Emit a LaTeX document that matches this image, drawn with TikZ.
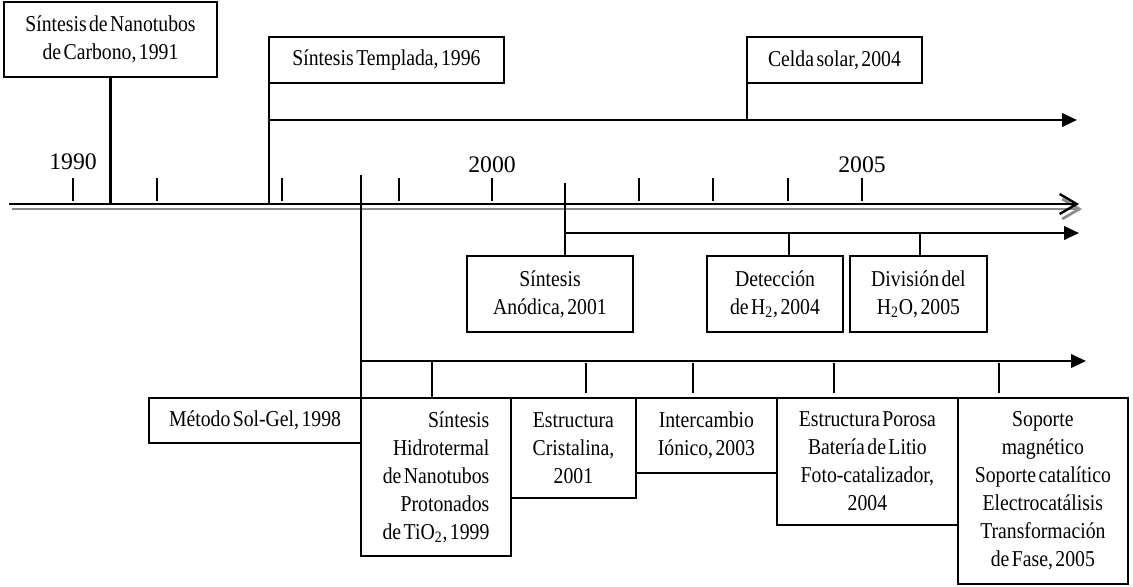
\documentclass[tikz,border=0pt]{standalone}
\usepackage{fontspec}
\setmainfont{Liberation Serif}
\newfontfamily\cajafont{Liberation Serif}[FakeStretch=0.87,WordSpace=0.5]
\usetikzlibrary{arrows.meta,positioning}

\begin{document}
\begin{tikzpicture}[x=0.02cm,y=-0.02cm]
  \tikzstyle{caja}=[rectangle,draw=black,line width=1pt,inner sep=2pt,outer sep=0pt,align=center,font=\cajafont\fontsize{12.9}{15.9}\selectfont]
  \tikzstyle{anio}=[font=\fontsize{13.5}{16}\selectfont]
  \tikzstyle{tallo}=[line width=1.35pt]
  \tikzstyle{rama}=[line width=1.35pt,-{Triangle[length=0.3cm,width=0.27cm]}]
  \tikzstyle{eje}=[line width=1.35pt,-{Straight Barb[length=0.34cm,width=0.4cm]}]

  \useasboundingbox (0,0) rectangle (1133,586);

  \coordinate (ejeA) at (9,204);
  \coordinate (ejeB) at (1079,204);
  \draw[eje,black!45,line width=1.6pt,transform canvas={xshift=0.06cm,yshift=-0.1cm}] (ejeA) -- (ejeB);
  \draw[eje] (ejeA) -- (ejeB);
  \foreach \x in {73,157,282,399,492,639,713,788,862}
    \draw[tallo] (\x,178) -- (\x,201);

  \node[anio] (a1990) at (73,162) {1990};
  \node[anio] (a2000) at (492,165) {2000};
  \node[anio] (a2005) at (862,165) {2005};

  \node[caja,anchor=north west,minimum width=4.26cm,minimum height=1.5cm] (carbono) at (4,2) {Síntesis de Nanotubos\\de Carbono, 1991};
  \node[caja,anchor=north west,minimum width=4.7cm,minimum height=0.92cm] (templada) at (269,37) {Síntesis Templada, 1996};
  \node[caja,anchor=north west,minimum width=3.5cm,minimum height=0.92cm] (celda) at (747,37) {Celda solar, 2004};

  \coordinate (r1) at (1077,120);
  \draw[tallo] (carbono.south) -- (carbono.south |- ejeA);
  \draw[tallo] (templada.south west) -- (templada.south west |- ejeA);
  \draw[rama] (templada.south west |- r1) -- (r1);
  \draw[tallo] (celda.south west) -- (celda.south west |- r1);

  \node[caja,anchor=north west,minimum width=3.32cm,minimum height=1.52cm] (anodica) at (467,256) {Síntesis\\Anódica, 2001};
  \node[caja,anchor=north west,minimum width=2.72cm,minimum height=1.52cm] (deteccion) at (707,256) {Detección\\de H\textsubscript{2}, 2004};
  \node[caja,right=0.14cm of deteccion,minimum width=2.74cm,minimum height=1.52cm] (division) {División del\\H\textsubscript{2}O, 2005};

  \coordinate (s2001) at (565,183);
  \coordinate (r2) at (1079,233);
  \coordinate (d2004) at (789,233);
  \coordinate (d2005) at (920,233);
  \draw[tallo] (s2001) -- (s2001 |- anodica.north);
  \draw[rama] (s2001 |- r2) -- (r2);
  \draw[tallo] (d2004) -- (d2004 |- deteccion.north);
  \draw[tallo] (d2005) -- (d2005 |- division.north);

  \node[caja,anchor=north west,minimum width=3cm,minimum height=3.16cm,align=right] (hidrotermal) at (361,398) {Síntesis\\Hidrotermal\\de Nanotubos\\Protonados\\de TiO\textsubscript{2}, 1999};
  \node[caja,anchor=north east,minimum width=4.24cm,minimum height=0.9cm] (solgel) at (hidrotermal.north west) {Método Sol-Gel, 1998};
  \node[caja,anchor=north west,minimum width=2.5cm,minimum height=2cm] (cristalina) at (hidrotermal.north east) {Estructura\\Cristalina,\\2001};
  \node[caja,anchor=north west,minimum width=2.82cm,minimum height=1.5cm] (intercambio) at (cristalina.north east) {Intercambio\\Iónico, 2003};
  \node[caja,anchor=north west,minimum width=3.62cm,minimum height=2.54cm] (porosa) at (intercambio.north east) {Estructura Porosa\\Batería de Litio\\Foto-catalizador,\\2004};
  \node[caja,anchor=north west,minimum width=3.4cm,minimum height=3.72cm] (soporte) at (porosa.north east) {Soporte\\magnético\\Soporte catalítico\\Electrocatálisis\\Transformación\\de Fase, 2005};

  \coordinate (s1998) at (361,175);
  \coordinate (r3) at (1086,361);
  \coordinate (h1999) at (432,361);
  \draw[tallo] (s1998) -- (hidrotermal.north west);
  \draw[rama] (s1998 |- r3) -- (r3);
  \draw[tallo] (h1999) -- (h1999 |- hidrotermal.north);
  \foreach \x in {586,693,834,999}
    \draw[tallo] (\x,363) -- (\x,393);
\end{tikzpicture}
\end{document}
